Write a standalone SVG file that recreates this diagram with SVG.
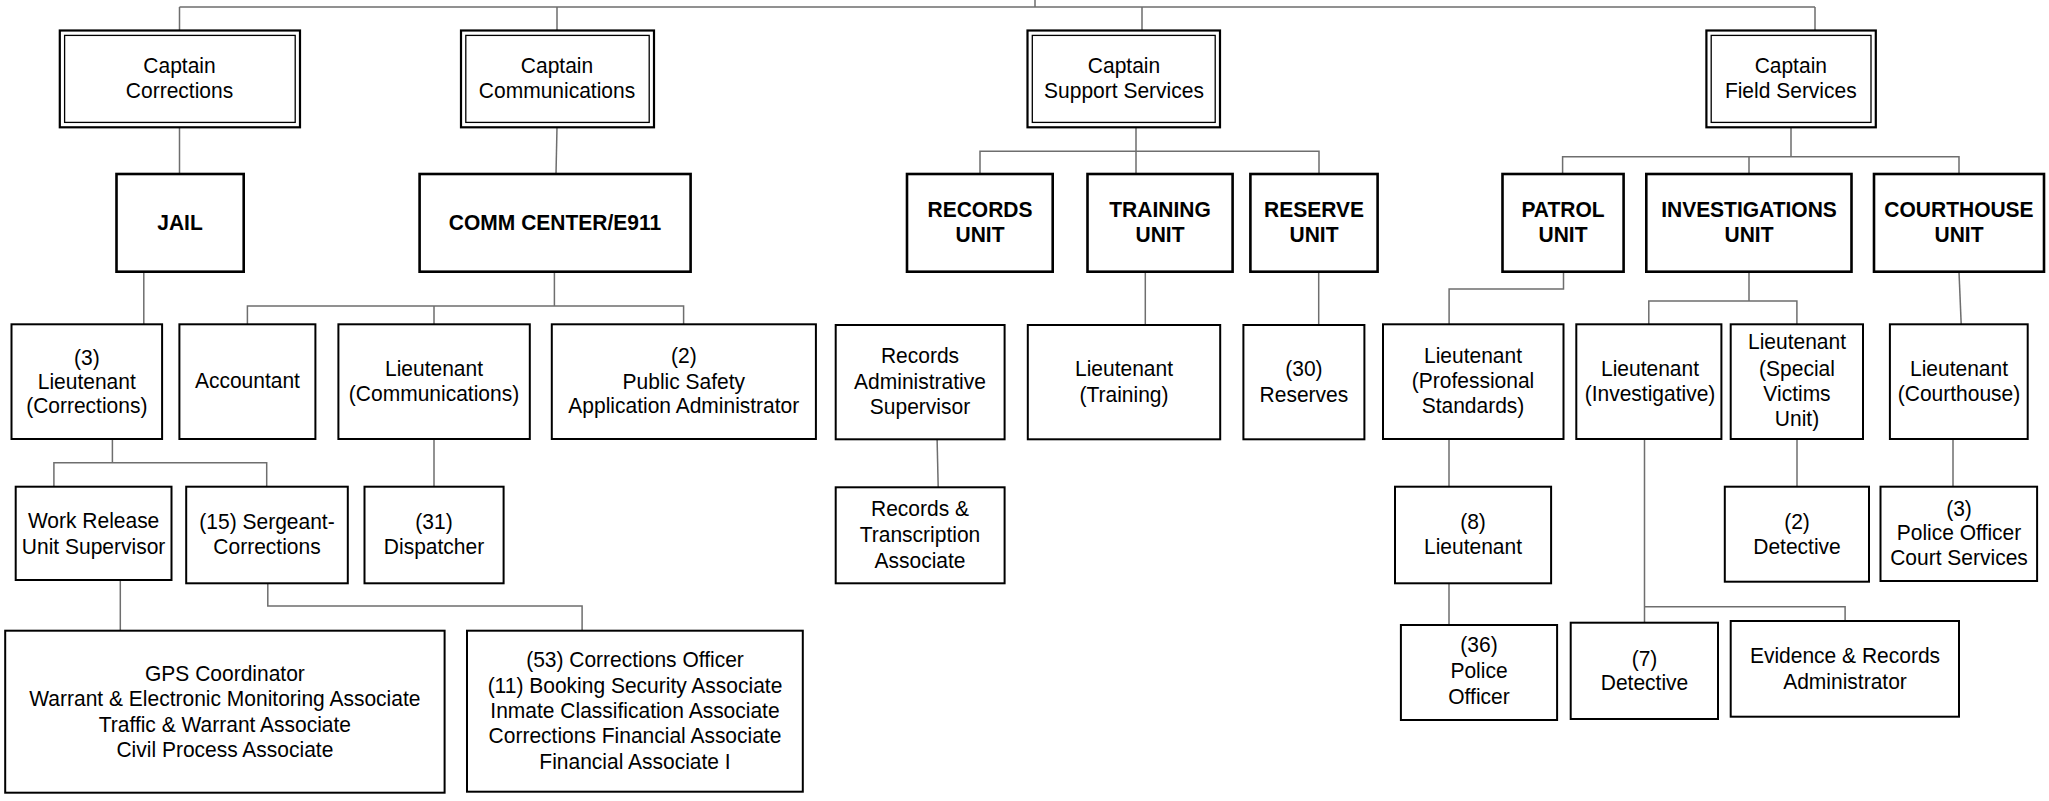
<svg xmlns="http://www.w3.org/2000/svg" width="2049" height="801" viewBox="0 0 2049 801">
<style>
.bg{fill:#ffffff}
.co{fill:#fff;stroke:#000;stroke-width:2.2}
.ci{fill:none;stroke:#000;stroke-width:1.3}
.un{fill:#fff;stroke:#000;stroke-width:2.6}
.bx{fill:#fff;stroke:#000;stroke-width:2}
.conn path{fill:none;stroke:#6e6e6e;stroke-width:1.5}
text{font-family:"Liberation Sans",Arial,sans-serif;font-size:21px;fill:#000;text-anchor:middle;transform-box:fill-box;transform-origin:50% 70%;transform:scaleY(1.06)}
.b{font-weight:bold}
</style>
<rect class="bg" x="0" y="0" width="2049" height="801"/>
<g id="connectors" class="conn">
<path d="M1035,0 V7 M179.5,7 H1815 M179.5,7 V30.5 M557,7 V30.5 M1142,7 V30.5 M1815,7 V30.5"/>
<path d="M179.5,127.3 V174"/>
<path d="M557,127.3 L556,174"/>
<path d="M1136,127.3 V151.3 M980,174 V151.3 H1319 V174 M1136,151.3 V174"/>
<path d="M1791,127.3 V156.7 M1562.6,174 V156.7 H1959 V174 M1749,156.7 V174"/>
<path d="M143.8,271.7 V324.3"/>
<path d="M554.4,271.7 V306 M247.4,324.3 V306 H683.6 V324.3 M434,306 V324.3"/>
<path d="M112.4,439 V462.7 M53.9,486.7 V462.7 H266.7 V486.7"/>
<path d="M434,439 V486.7"/>
<path d="M120.3,580 V630.7"/>
<path d="M267.8,583.3 V606 H582.1 V630.7"/>
<path d="M1145.3,271.7 V325"/>
<path d="M1318.7,271.7 V325"/>
<path d="M937.1,439.3 L938.2,487.3"/>
<path d="M1563.5,271.7 V289 H1449.1 V324.3"/>
<path d="M1749,271.7 V301 M1648.8,324.3 V301 H1796.9 V324.3"/>
<path d="M1959,271.7 L1961.2,324.3"/>
<path d="M1449,439 V486.7"/>
<path d="M1449,583.3 V625"/>
<path d="M1797,439 V486.7"/>
<path d="M1953,439 V486.7"/>
<path d="M1644.5,439 V622.7 M1644.5,606.7 H1845.1 V621"/>
</g>
<g id="cap-corrections">
<rect class="co" x="59.8" y="30.5" width="240.2" height="96.8"/>
<rect class="ci" x="64.6" y="35.4" width="230.6" height="87"/>
<text x="179.5" y="72.7">Captain</text><text x="179.5" y="97.7">Corrections</text>
</g>
<g id="cap-communications">
<rect class="co" x="461" y="30.5" width="193" height="96.8"/>
<rect class="ci" x="465.8" y="35.4" width="183.4" height="87"/>
<text x="557" y="72.7">Captain</text><text x="557" y="97.7">Communications</text>
</g>
<g id="cap-support">
<rect class="co" x="1027.5" y="30.5" width="192.5" height="96.8"/>
<rect class="ci" x="1032.3" y="35.4" width="182.9" height="87"/>
<text x="1124" y="72.7">Captain</text><text x="1124" y="97.7">Support Services</text>
</g>
<g id="cap-field">
<rect class="co" x="1706.4" y="30.5" width="169.4" height="96.8"/>
<rect class="ci" x="1711.2" y="35.4" width="159.8" height="87"/>
<text x="1790.8" y="72.7">Captain</text><text x="1790.8" y="97.7">Field Services</text>
</g>
<g id="jail"><rect class="un" x="116.5" y="174" width="127.2" height="97.7"/><text class="b" x="180" y="230">JAIL</text></g>
<g id="comm"><rect class="un" x="419.6" y="174" width="271" height="97.7"/><text class="b" x="555" y="230">COMM CENTER/E911</text></g>
<g id="records-unit"><rect class="un" x="907" y="174" width="145.7" height="97.7"/><text class="b" x="980" y="216.7">RECORDS</text><text class="b" x="980" y="242.3">UNIT</text></g>
<g id="training-unit"><rect class="un" x="1087.5" y="174" width="145.1" height="97.7"/><text class="b" x="1160" y="216.7">TRAINING</text><text class="b" x="1160" y="242.3">UNIT</text></g>
<g id="reserve-unit"><rect class="un" x="1250.4" y="174" width="127.2" height="97.7"/><text class="b" x="1314" y="216.7">RESERVE</text><text class="b" x="1314" y="242.3">UNIT</text></g>
<g id="patrol-unit"><rect class="un" x="1502.5" y="174" width="121.1" height="97.7"/><text class="b" x="1563" y="216.7">PATROL</text><text class="b" x="1563" y="242.3">UNIT</text></g>
<g id="investigations-unit"><rect class="un" x="1646.3" y="174" width="205.2" height="97.7"/><text class="b" x="1749" y="216.7">INVESTIGATIONS</text><text class="b" x="1749" y="242.3">UNIT</text></g>
<g id="courthouse-unit"><rect class="un" x="1874" y="174" width="170" height="97.7"/><text class="b" x="1959" y="216.7">COURTHOUSE</text><text class="b" x="1959" y="242.3">UNIT</text></g>
<g id="lt-corrections"><rect class="bx" x="11.5" y="324.3" width="150.6" height="114.7"/><text x="86.8" y="365">(3)</text><text x="86.8" y="389.3">Lieutenant</text><text x="86.8" y="413.3">(Corrections)</text></g>
<g id="accountant"><rect class="bx" x="179.4" y="324.3" width="136" height="114.7"/><text x="247.4" y="388.3">Accountant</text></g>
<g id="lt-communications"><rect class="bx" x="338.4" y="324.3" width="191.4" height="114.7"/><text x="434" y="376">Lieutenant</text><text x="434" y="400.7">(Communications)</text></g>
<g id="psaa"><rect class="bx" x="551.8" y="324.3" width="264.1" height="114.7"/><text x="683.8" y="363.3">(2)</text><text x="683.8" y="389.3">Public Safety</text><text x="683.8" y="413.3">Application Administrator</text></g>
<g id="records-admin"><rect class="bx" x="835.7" y="325" width="168.9" height="114.3"/><text x="920" y="363.3">Records</text><text x="920" y="389">Administrative</text><text x="920" y="414.3">Supervisor</text></g>
<g id="lt-training"><rect class="bx" x="1027.8" y="325" width="192.4" height="114.3"/><text x="1124" y="376">Lieutenant</text><text x="1124" y="401.7">(Training)</text></g>
<g id="reserves"><rect class="bx" x="1243.4" y="325" width="121" height="114.3"/><text x="1303.9" y="376">(30)</text><text x="1303.9" y="401.7">Reserves</text></g>
<g id="lt-prof-std"><rect class="bx" x="1383" y="324.3" width="180.5" height="114.7"/><text x="1473" y="362.7">Lieutenant</text><text x="1473" y="388.3">(Professional</text><text x="1473" y="413.3">Standards)</text></g>
<g id="lt-investigative"><rect class="bx" x="1576.3" y="324.3" width="145.1" height="114.7"/><text x="1650" y="376">Lieutenant</text><text x="1650" y="401">(Investigative)</text></g>
<g id="lt-svu"><rect class="bx" x="1730.7" y="324.3" width="132.3" height="114.7"/><text x="1797" y="349.3">Lieutenant</text><text x="1797" y="376">(Special</text><text x="1797" y="401">Victims</text><text x="1797" y="426">Unit)</text></g>
<g id="lt-courthouse"><rect class="bx" x="1889.9" y="324.3" width="137.8" height="114.7"/><text x="1959" y="376">Lieutenant</text><text x="1959" y="401">(Courthouse)</text></g>
<g id="work-release"><rect class="bx" x="15.7" y="486.7" width="155.8" height="93.3"/><text x="93.6" y="527.7">Work Release</text><text x="93.6" y="553.7">Unit Supervisor</text></g>
<g id="sergeant"><rect class="bx" x="186.2" y="486.7" width="161.6" height="96.6"/><text x="267" y="528.7">(15) Sergeant-</text><text x="267" y="553.7">Corrections</text></g>
<g id="dispatcher"><rect class="bx" x="364.5" y="486.7" width="139.1" height="96.6"/><text x="434" y="529">(31)</text><text x="434" y="553.7">Dispatcher</text></g>
<g id="records-transcription"><rect class="bx" x="835.7" y="487.3" width="168.9" height="96"/><text x="920" y="516">Records &amp;</text><text x="920" y="541.7">Transcription</text><text x="920" y="567.8">Associate</text></g>
<g id="lt-8"><rect class="bx" x="1395" y="486.7" width="156.1" height="96.6"/><text x="1473" y="529.3">(8)</text><text x="1473" y="554">Lieutenant</text></g>
<g id="detective-2"><rect class="bx" x="1724.8" y="486.7" width="144.2" height="95"/><text x="1797" y="529.3">(2)</text><text x="1797" y="554">Detective</text></g>
<g id="po-court"><rect class="bx" x="1880.5" y="486.7" width="156.6" height="94.3"/><text x="1959" y="516">(3)</text><text x="1959" y="540">Police Officer</text><text x="1959" y="565">Court Services</text></g>
<g id="gps"><rect class="bx" x="5.2" y="630.7" width="439.4" height="162"/><text x="224.9" y="680.8">GPS Coordinator</text><text x="224.9" y="706">Warrant &amp; Electronic Monitoring Associate</text><text x="224.9" y="731.5">Traffic &amp; Warrant Associate</text><text x="224.9" y="756.5">Civil Process Associate</text></g>
<g id="corrections-officer"><rect class="bx" x="467" y="630.7" width="335.8" height="161"/><text x="635" y="666.7">(53) Corrections Officer</text><text x="635" y="692.5">(11) Booking Security Associate</text><text x="635" y="718">Inmate Classification Associate</text><text x="635" y="743.3">Corrections Financial Associate</text><text x="635" y="768.7">Financial Associate I</text></g>
<g id="police-officer"><rect class="bx" x="1400.9" y="625" width="156.2" height="95"/><text x="1479" y="652.3">(36)</text><text x="1479" y="678.3">Police</text><text x="1479" y="704">Officer</text></g>
<g id="detective-7"><rect class="bx" x="1570.7" y="622.7" width="147.3" height="96.3"/><text x="1644.5" y="666">(7)</text><text x="1644.5" y="690.3">Detective</text></g>
<g id="evidence"><rect class="bx" x="1730.7" y="621" width="228.3" height="95.7"/><text x="1845" y="662.7">Evidence &amp; Records</text><text x="1845" y="689.3">Administrator</text></g>
</svg>
